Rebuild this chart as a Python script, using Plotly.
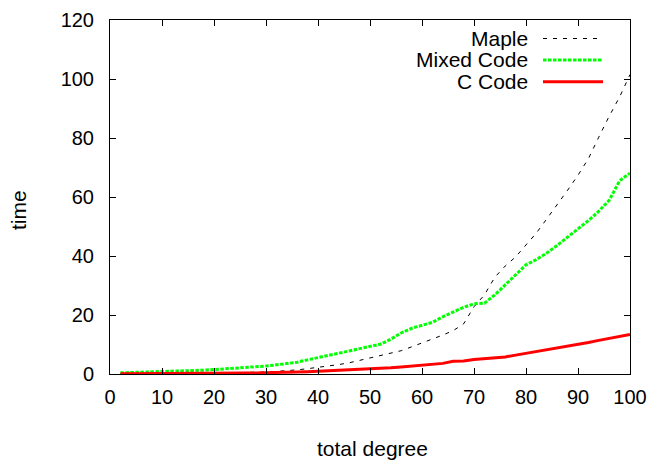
import plotly.graph_objects as go

degree = list(range(2, 101, 2))

maple = [0.05, 0.05, 0.05, 0.1, 0.1, 0.1, 0.15, 0.2, 0.2, 0.3,
         0.35, 0.4, 0.5, 0.6, 0.7, 0.9, 1.1, 1.4, 1.8, 2.2,
         2.7, 3.2, 3.8, 4.6, 5.4, 6.3, 7.0, 7.9, 9.2, 10.5,
         11.7, 13.2, 14.7, 17.0, 22.8, 26.8, 32.8, 36.6, 39.7, 43.9,
         47.8, 52.6, 57.3, 62.3, 67.4, 73.0, 80.3, 87.4, 93.9, 101.5]

mixed = [0.4, 0.5, 0.5, 0.6, 0.7, 0.8, 1.0, 1.1, 1.3, 1.5,
         1.7, 1.9, 2.1, 2.4, 2.7, 3.1, 3.5, 4.0, 4.8, 5.5,
         6.2, 7.0, 7.8, 8.6, 9.3, 10.1, 11.8, 13.9, 15.5, 16.6,
         17.5, 19.4, 21.0, 22.6, 23.8, 24.0, 26.8, 30.2, 33.8, 37.0,
         38.8, 41.0, 43.6, 46.3, 49.0, 52.0, 55.2, 58.9, 65.5, 68.1]

ccode = [0.05, 0.05, 0.05, 0.05, 0.1, 0.1, 0.1, 0.15, 0.15, 0.2,
         0.25, 0.3, 0.3, 0.35, 0.4, 0.5, 0.55, 0.65, 0.8, 0.95,
         1.1, 1.25, 1.4, 1.55, 1.75, 1.95, 2.15, 2.4, 2.7, 3.0,
         3.2, 3.6, 4.3, 4.4, 4.9, 5.2, 5.5, 5.8, 6.4, 7.0,
         7.5, 8.1, 8.7, 9.4, 10.0, 10.7, 11.4, 12.1, 12.6, 13.4]

series_names = ["Maple", "Mixed Code", "C Code"]
x_ticks = list(range(0, 101, 10))
y_ticks = list(range(0, 121, 20))

W, H = 653, 462
L, R, T, B = 110, 23, 20, 88
FONT = "Liberation Sans, Arial, Helvetica, sans-serif"

styles = [
    dict(color="black", width=1, dash="4px,6px"),
    dict(color="#00ff00", width=3, dash="3.5px,1.5px"),
    dict(color="#ff0000", width=3),
]

fig = go.Figure()
for name, ys, st in zip(series_names, [maple, mixed, ccode], styles):
    fig.add_trace(go.Scatter(x=degree, y=ys, mode="lines", name=name,
                             line=st, showlegend=False, hoverinfo="skip"))

# gnuplot-style key: text right-aligned, line sample to the right
pw, ph = W - L - R, H - T - B
def px_to_paper_x(px):
    return (px - L) / pw
def px_to_paper_y(py):
    return (H - B - py) / ph

rows_y = [38.5, 60, 81.7]
for name, st, ry in zip(series_names, styles, rows_y):
    fig.add_annotation(x=px_to_paper_x(530), y=px_to_paper_y(ry), xref="paper", yref="paper",
                       text=name, showarrow=False, xanchor="right", yanchor="middle",
                       font=dict(family=FONT, size=21, color="black"))
    fig.add_shape(type="line", xref="paper", yref="paper",
                  x0=px_to_paper_x(543), x1=px_to_paper_x(603),
                  y0=px_to_paper_y(ry), y1=px_to_paper_y(ry), line=st)

fig.add_annotation(x=px_to_paper_x(372), y=px_to_paper_y(449), xref="paper", yref="paper",
                   text="total degree", showarrow=False, xanchor="center", yanchor="middle",
                   font=dict(family=FONT, size=21, color="black"))
fig.add_annotation(x=px_to_paper_x(18), y=px_to_paper_y(210), xref="paper", yref="paper",
                   text="time", showarrow=False, textangle=-90, xanchor="center", yanchor="middle",
                   font=dict(family=FONT, size=21, color="black"))

axis_common = dict(showline=True, linecolor="black", linewidth=1, mirror="allticks",
                   ticks="inside", ticklen=6, tickcolor="black", tickwidth=1,
                   showgrid=False, zeroline=False, automargin=False,
                   tickfont=dict(family=FONT, size=20, color="black"))

fig.update_layout(
    width=W, height=H,
    margin=dict(l=L, r=R, t=T, b=B, autoexpand=False),
    plot_bgcolor="white", paper_bgcolor="white",
    xaxis=dict(range=[0, 100], tickvals=x_ticks, ticklabelstandoff=5, **axis_common),
    yaxis=dict(range=[0, 120], tickvals=y_ticks, ticklabelstandoff=11, **axis_common),
    showlegend=False,
    hovermode=False,
)

fig.write_html("out.html", config={"responsive": False, "displayModeBar": False},
               post_script="document.body.style.margin='0';document.body.style.padding='0';document.body.style.overflow='hidden';")
